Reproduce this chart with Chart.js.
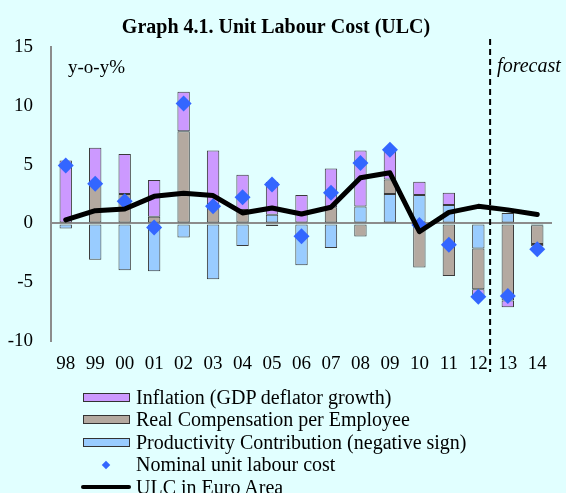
<!DOCTYPE html>
<html>
<head>
<meta charset="utf-8">
<script src="https://cdn.jsdelivr.net/npm/chart.js@4.4.1/dist/chart.umd.min.js"></script>
<style>
  body { margin: 0; background: #E1FFFF; }
  #wrap { position: relative; width: 566px; height: 493px; }
  #legend {
    position: absolute; left: 80px; top: 386px;
    font-family: "Liberation Serif", "Times New Roman", serif;
    font-size: 20px; color: #000;
  }
  .row { height: 22.5px; display: flex; align-items: center; white-space: nowrap; }
  .key { width: 52px; height: 22px; display: flex; align-items: center; justify-content: center; margin-right: 4px; }
  .box { width: 45px; height: 7px; border: 1px solid #333; }
  .dia { width: 6px; height: 6px; transform: rotate(45deg); background: #3366FF; }
  .ln { width: 50px; height: 4px; background: #000; border-radius: 2px; }
</style>
</head>
<body>
<div id="wrap">
  <canvas id="ulc" width="566" height="493"></canvas>
  <div id="legend"></div>
</div>
<script>
// years on the x axis
var years = ['98','99','00','01','02','03','04','05','06','07','08','09','10','11','12','13','14'];

// contributions (pp)
var inflation   = [5.35, 3.14, 3.4, 3.13, 3.36, 4.6, 2.99, 2.78, 2.42, 3.3, 4.76, 2.5, 1.12, 1.03, -0.7, -0.57, -0.2];
var realComp    = [0, 3.3, 2.5, 0.57, 7.84, 1.6, 1.14, -0.22, 0, 1.37, -1.11, 1.22, -3.76, -4.47, -3.47, -6.55, -1.6];
var productivity = [-0.43, -3.1, -3.98, -4.07, -1.2, -4.75, -1.93, 0.74, -3.56, -2.1, 1.43, 2.51, 2.42, 1.57, -2.13, 0.89, -0.15];

// nominal ULC and euro area ULC, y-o-y %
var nominalUlc = [4.93, 3.37, 1.88, -0.34, 10.2, 1.46, 2.22, 3.3, -1.1, 2.6, 5.13, 6.27, -0.14, -1.82, -6.24, -6.18, -2.2];
var euroAreaUlc = [0.3, 1.08, 1.23, 2.3, 2.56, 2.37, 0.89, 1.31, 0.8, 1.37, 3.88, 4.3, -0.71, 0.94, 1.45, 1.15, 0.75];

var yTicks = [-10, -5, 0, 5, 10, 15];
var forecastFrom = 14.4; // between '12' and '13' (category index)

var serif = '"Liberation Serif", "Times New Roman", serif';
var purple = '#CC99FF', tan = '#B4A9A0', sky = '#99CCFF', diamond = '#3366FF';

// dashed forecast line + small notes
var notes = {
  id: 'notes',
  afterDatasetsDraw: function (chart) {
    var ctx = chart.ctx, area = chart.chartArea, x = chart.scales.x;
    var fx = x.getPixelForValue(forecastFrom);
    ctx.save();
    ctx.strokeStyle = '#000';
    ctx.lineWidth = 2;
    ctx.setLineDash([6, 4]);
    ctx.beginPath();
    ctx.moveTo(fx, area.top - 8);
    ctx.lineTo(fx, area.bottom + 31);
    ctx.stroke();
    ctx.setLineDash([]);
    ctx.fillStyle = '#000';
    ctx.textBaseline = 'middle';
    ctx.font = 'italic 20px ' + serif;
    ctx.fillText('forecast', fx + 7, area.top + 20);
    ctx.font = '19px ' + serif;
    ctx.fillText('y-o-y%', area.left + 17, area.top + 21);
    ctx.restore();
  }
};

var ctx = document.getElementById('ulc').getContext('2d');
var chart = new Chart(ctx, {
  data: {
    labels: years,
    datasets: [
      { type: 'line', label: 'ULC in Euro Area', data: euroAreaUlc, stack: 'ea', order: 0,
        borderColor: '#000', borderWidth: 5, pointRadius: 0, tension: 0,
        borderJoinStyle: 'round', borderCapStyle: 'round' },
      { type: 'line', label: 'Nominal unit labour cost', data: nominalUlc, stack: 'nulc', order: 1,
        showLine: false, pointStyle: 'rectRot', pointRadius: 8,
        backgroundColor: diamond, borderColor: diamond, borderWidth: 0 },
      { type: 'bar', label: 'Inflation (GDP deflator growth)', data: inflation, stack: 'c', order: 4,
        backgroundColor: purple, borderColor: '#3a3a3a', borderWidth: 1, borderSkipped: false },
      { type: 'bar', label: 'Real Compensation per Employee', data: realComp, stack: 'c', order: 3,
        backgroundColor: tan, borderColor: '#3a3a3a', borderWidth: 1, borderSkipped: false },
      { type: 'bar', label: 'Productivity Contribution (negative sign)', data: productivity, stack: 'c', order: 2,
        backgroundColor: sky, borderColor: '#3a3a3a', borderWidth: 1, borderSkipped: false }
    ]
  },
  options: {
    responsive: false,
    animation: false,
    layout: { padding: { left: 0, right: 14, top: 0, bottom: 119 } },
    datasets: { bar: { categoryPercentage: 1, barPercentage: 0.42 } },
    plugins: {
      legend: { display: false },
      tooltip: { enabled: false },
      title: {
        display: true,
        text: 'Graph 4.1. Unit Labour Cost (ULC)',
        color: '#000',
        font: { family: serif, size: 20, weight: 'bold' },
        padding: { top: 16, bottom: 7 }
      }
    },
    scales: {
      x: {
        stacked: true,
        grid: { display: false, drawTicks: false },
        border: { display: false },
        ticks: { color: '#000', font: { family: serif, size: 19 }, padding: 12, maxRotation: 0, autoSkip: false },
        afterFit: function (s) { s.height = 33; }
      },
      y: {
        stacked: true,
        min: -10, max: 15,
        afterBuildTicks: function (s) { s.ticks = yTicks.map(function (v) { return { value: v }; }); },
        ticks: { color: '#000', font: { family: serif, size: 19 }, padding: 18 },
        grid: {
          drawTicks: false,
          lineWidth: 2,
          color: function (c) { return c.tick && c.tick.value === 0 ? '#8c8c8c' : 'rgba(0,0,0,0)'; }
        },
        border: { display: true, color: '#8c8c8c', width: 2 },
        afterFit: function (s) { s.width = 51; }
      }
    }
  },
  plugins: [notes]
});

// legend in the original order
var legendItems = [
  { kind: 'box', color: purple, text: chart.data.datasets[2].label },
  { kind: 'box', color: tan, text: chart.data.datasets[3].label },
  { kind: 'box', color: sky, text: chart.data.datasets[4].label },
  { kind: 'dia', text: chart.data.datasets[1].label },
  { kind: 'ln', text: chart.data.datasets[0].label }
];
var lg = document.getElementById('legend');
legendItems.forEach(function (it) {
  var row = document.createElement('div');
  row.className = 'row';
  var key = document.createElement('span');
  key.className = 'key';
  var mark = document.createElement('span');
  mark.className = it.kind;
  if (it.kind === 'box') mark.style.background = it.color;
  key.appendChild(mark);
  var txt = document.createElement('span');
  txt.textContent = it.text;
  row.appendChild(key);
  row.appendChild(txt);
  lg.appendChild(row);
});
</script>
</body>
</html>
